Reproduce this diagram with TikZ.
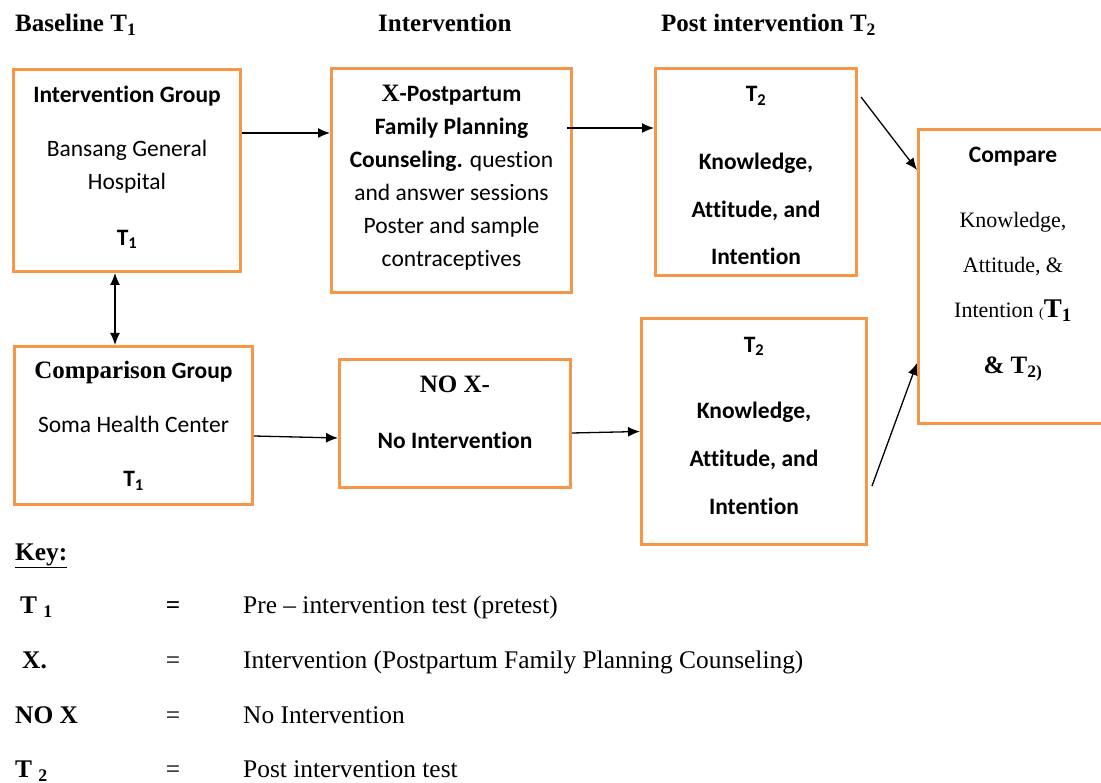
\documentclass[tikz,border=0pt]{standalone}
\usepackage{fontspec}
\setmainfont{Liberation Serif}
\newfontfamily\calibri[Ligatures=NoCommon]{Carlito}
\usetikzlibrary{arrows.meta}
\definecolor{boxorange}{RGB}{247,150,70}
\newcommand{\tnr}{\rmfamily\fontsize{22}{33}\selectfont}

\begin{document}
\begin{tikzpicture}[x=1pt, y=-1pt,
  >={Latex[length=12pt,width=10pt]},
  box/.style={draw=boxorange, line width=3pt, inner sep=0pt, align=center, font=\calibri\fontsize{23.5}{33}\selectfont},
  boldbox/.style={box, font=\calibri\bfseries\fontsize{23.5}{33}\selectfont},
  head/.style={anchor=base west, inner sep=0pt, font=\bfseries\fontsize{25}{30}\selectfont},
  keytext/.style={anchor=base west, inner sep=0pt, font=\fontsize{25.4}{30}\selectfont},
  arr/.style={->, line width=1.3pt}]

\useasboundingbox (0,0) rectangle (1101,783);

\node[head] (h1) at (15,31.5) {Baseline T\textsubscript{1}};
\node[head] (h2) at (378,31.5) {Intervention};
\node[head] (h3) at (661,31.5) {Post intervention T\textsubscript{2}};

\node[box, minimum width=227pt, minimum height=202pt] (IG) at (127,170.5) {{\bfseries Intervention Group}\\[21pt] Bansang General\\ Hospital\\[23pt] {\bfseries T\textsubscript{1}}\rule[-10pt]{0pt}{0pt}};
\node[box, minimum width=240pt, minimum height=224pt] (X) at (451.5,180.5) {{\bfseries{\rmfamily\fontsize{25}{30}\selectfont X}-Postpartum}\\ {\bfseries Family Planning}\\ {\bfseries Counseling.} question\\ and answer sessions\\ Poster and sample\\ contraceptives\rule[-9pt]{0pt}{0pt}};
\node[boldbox, minimum width=201pt, minimum height=207pt] (T2a) at (756,172) {\rule{0pt}{22pt}T\textsubscript{2}\\[35pt] Knowledge,\\[15pt] Attitude, and\\[14pt] Intention};
\node[box, minimum width=189pt, minimum height=294pt] (Cmp) at (1013,276.5) {{\bfseries Compare}\\[32pt] {\tnr Knowledge,}\\[12pt] {\tnr Attitude, \&}\\[12pt] {\tnr Intention {\fontsize{14}{14}\selectfont(}\bfseries\fontsize{27}{30}\selectfont T\textsubscript{1}}\\[23pt] {\rmfamily\bfseries\fontsize{25}{30}\selectfont \& T\textsubscript{2)}}\rule[-32pt]{0pt}{0pt}};
\node[box, minimum width=238pt, minimum height=158pt] (CG) at (133.5,425.5) {{\bfseries{\rmfamily\fontsize{25}{30}\selectfont Comparison} Group}\\[21pt] Soma Health Center\\[21pt] {\bfseries T\textsubscript{1}}};
\node[boldbox, minimum width=231pt, minimum height=128pt] (NoX) at (455,423.5) {{\rmfamily\fontsize{25}{30}\selectfont NO X-}\\[23pt] No Intervention\rule[-23pt]{0pt}{0pt}};
\node[boldbox, minimum width=225pt, minimum height=226pt] (T2b) at (754,431.5) {T\textsubscript{2}\\[33pt] Knowledge,\\[15pt] Attitude, and\\[15pt] Intention\rule[-12pt]{0pt}{0pt}};

\draw[arr] ([yshift=37.5pt]IG.east) -- ([yshift=47.5pt]X.west);
\draw[arr] ([xshift=-6pt,yshift=52.5pt]X.east) -- ([yshift=44pt]T2a.west);
\draw[arr] ([xshift=3pt,yshift=75pt]T2a.east) -- ([yshift=106.5pt]Cmp.west);
\draw[arr, <->] ([xshift=-12pt]IG.south) -- ([xshift=-18.5pt]CG.north);
\draw[arr] ([yshift=-10.5pt]CG.east) -- ([yshift=-14.5pt]NoX.west);
\draw[arr] ([yshift=-9.5pt]NoX.east) -- (T2b.west);
\draw[arr] ([xshift=4pt,yshift=-54.5pt]T2b.east) -- ([yshift=-86.5pt]Cmp.west);

\node[keytext] (key) at (15,560) {\underline{\bfseries Key:}};
\node[keytext] (k1) at (20,613.5) {\bfseries T \textsubscript{1}};
\node[keytext] (k2) at (22,668.5) {\bfseries X.};
\node[keytext] (k3) at (15,723.5) {\bfseries NO X};
\node[keytext] (k4) at (15,777.5) {\bfseries T \textsubscript{2}};
\node[keytext, anchor=base] (e1) at (173,613.5) {\bfseries =};
\node[keytext, anchor=base] (e2) at (173,668.5) {=};
\node[keytext, anchor=base] (e3) at (173,723.5) {=};
\node[keytext, anchor=base] (e4) at (173,777.5) {=};
\node[keytext] (d1) at (243,613.5) {Pre -- intervention test (pretest)};
\node[keytext] (d2) at (243,668.5) {Intervention (Postpartum Family Planning Counseling)};
\node[keytext] (d3) at (243,723.5) {No Intervention};
\node[keytext] (d4) at (243,777.5) {Post intervention test};

\end{tikzpicture}
\end{document}
